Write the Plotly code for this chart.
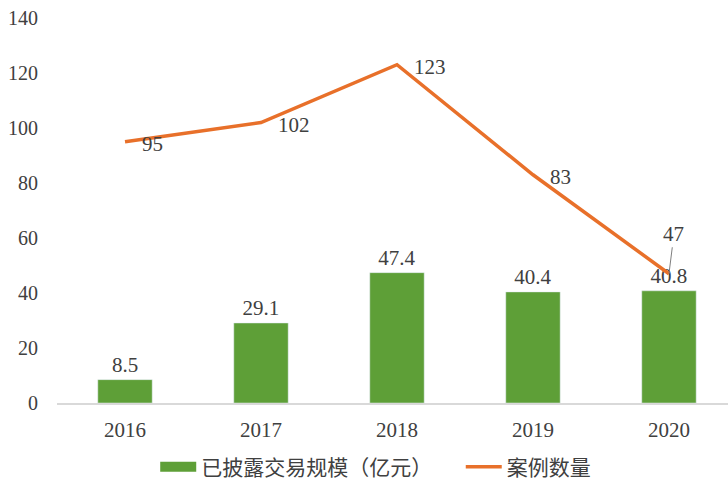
import plotly.graph_objects as go

years = ["2016", "2017", "2018", "2019", "2020"]
scale = [8.5, 29.1, 47.4, 40.4, 40.8]
cases = [95, 102, 123, 83, 47]
bar_name = "已披露交易规模（亿元）"
line_name = "案例数量"

GREEN = "#5E9F37"
ORANGE = "#E8702A"
TXT = "#404040"
SERIF = "Liberation Serif, Times New Roman, serif"
CJK = "Noto Sans CJK SC, sans-serif"

fig = go.Figure()
fig.add_trace(go.Bar(
    x=years, y=scale, name=bar_name, marker_color=GREEN, width=0.4,
    text=[f"{v:.1f}" for v in scale], textposition="outside",
    textfont=dict(family=SERIF, size=21, color=TXT), cliponaxis=False,
    showlegend=False, legendgroup="bar",
))
# legend-only swatch for the bars (wide rectangle)
fig.add_trace(go.Scatter(
    x=[None], y=[None], name=bar_name + "\u00a0" * 5, mode="lines",
    line=dict(color=GREEN, width=12), legendgroup="bar",
))
fig.add_trace(go.Scatter(
    x=years, y=cases, name=line_name, mode="lines",
    line=dict(color=ORANGE, width=3.5), cliponaxis=False,
))

n = len(years)
for i, v in enumerate(cases):
    if i == n - 1:
        fig.add_annotation(x=i, y=v, text=str(v), showarrow=True, arrowhead=0,
                           arrowwidth=1, arrowcolor="#7f7f7f", ax=5, ay=-40,
                           font=dict(family=SERIF, size=21, color=TXT))
    else:
        fig.add_annotation(x=i, y=v, text=str(v), showarrow=False,
                           xanchor="left", xshift=15, yshift=-2,
                           font=dict(family=SERIF, size=21, color=TXT))

fig.update_layout(
    width=728, height=490,
    margin=dict(l=57, r=0, t=18, b=87),
    plot_bgcolor="white", paper_bgcolor="white",
    showlegend=True,
    legend=dict(orientation="h", x=0.475, xanchor="center",
                yref="container", y=0.005, yanchor="bottom",
                font=dict(family=CJK, size=21, color=TXT), itemwidth=36,
                tracegroupgap=0),
    bargap=0.6,
)
fig.update_xaxes(type="category", range=[-0.5, 4.434], showgrid=False,
                 showline=True, linecolor="#d9d9d9", linewidth=1.5, ticks="",
                 tickfont=dict(family=SERIF, size=21, color=TXT), ticklabelstandoff=7)
fig.update_yaxes(range=[0, 140], dtick=20, showgrid=False, zeroline=False,
                 showline=False, ticks="",
                 tickfont=dict(family=SERIF, size=20, color=TXT), ticklabelstandoff=18)

fig.write_html("out.html")
